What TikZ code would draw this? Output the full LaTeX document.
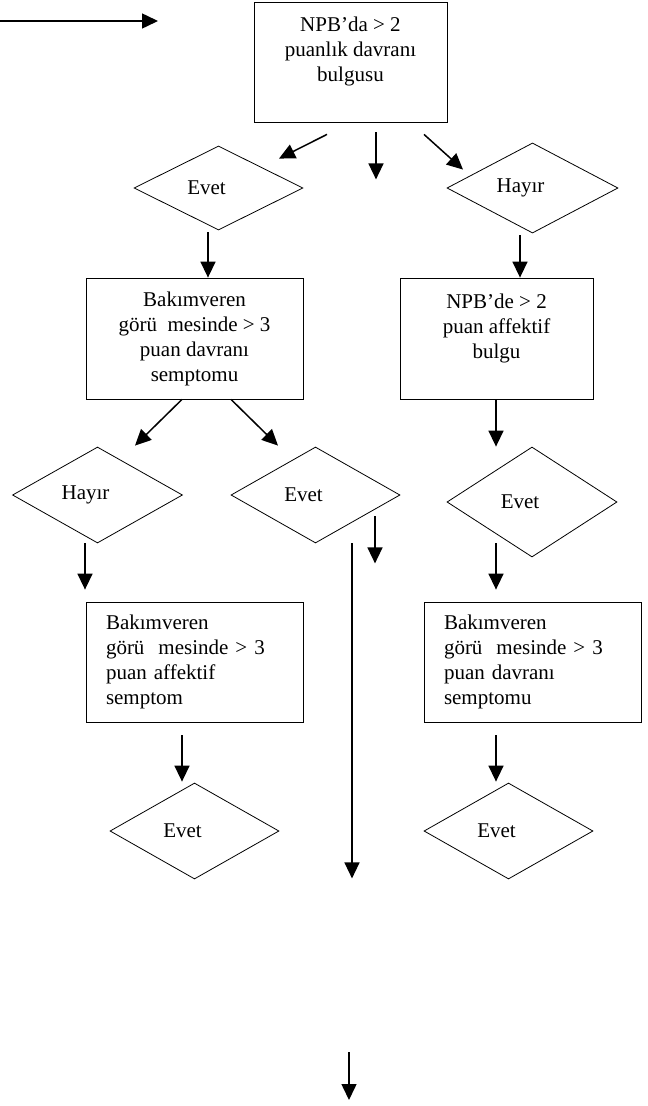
\documentclass[tikz,border=0pt]{standalone}
\usepackage{fontspec}
\setmainfont{Liberation Serif}
\usetikzlibrary{arrows.meta, shapes.geometric, calc}

\begin{document}
\begin{tikzpicture}[x=1pt, y=-1pt,
    stage/.style={draw, line width=0.8pt, minimum width=217pt, minimum height=121pt,
                  align=center, inner sep=0pt},
    note/.style={stage, align=left, text width=177pt, inner xsep=20pt},
    choice/.style={draw, diamond, line width=0.8pt, minimum width=170pt,
                   minimum height=96pt, inner sep=0pt,
                   execute at end node={\hspace{24pt}}},
    arrow/.style={-{Triangle[length=16pt, width=15pt]}, line width=1.5pt},
    font=\fontsize{21}{25}\selectfont
  ]
    \useasboundingbox (0,0) rectangle (648,1106);

    \coordinate (in0) at (0,21);
    \coordinate (in0tip) at (158,21);
    \coordinate (out0) at (349,1052);

    \node[stage, minimum width=193pt, minimum height=120pt] (box1) at (350.5,62)
      {NPB’da > 2\\puanlık davranı\\bulgusu\\\mbox{}};

    \node[choice, minimum width=169pt, minimum height=84pt] (e1) at (218.5,188) {Evet};
    \node[choice, minimum width=171pt, minimum height=84pt] (h1) at (532.5,188) {Hayır};

    \node[stage] (box2) at (194.5,338.5)
      {Bakımveren\\görü~~mesinde > 3\\puan davranı\\semptomu};
    \node[stage, minimum width=193pt] (box3) at (496.5,338.5)
      {NPB’de > 2\\puan affektif\\bulgu\\\mbox{}};

    \node[choice] (h2) at (97.5,495) {Hayır};
    \node[choice, minimum width=169pt] (e2) at (315.5,495) {Evet};
    \node[choice, minimum height=110pt] (e3) at (532,502) {Evet};

    \node[note, minimum height=120pt] (box4) at (194.5,662)
      {Bakımveren\\görü~~mesinde > 3\\puan affektif\\semptom};
    \node[note, minimum height=120pt] (box5) at (532.5,662)
      {Bakımveren\\görü~~mesinde > 3\\puan davranı\\semptomu};

    \node[choice, minimum width=169pt] (e4) at (194.5,831) {Evet};
    \node[choice, minimum width=169pt] (e5) at (508.5,831) {Evet};

    % arrows
    \draw[arrow] (in0) -- (in0tip);
    \draw[arrow] ($(box1.south)+(-23.5,12)$) -- ($(e1.north)+(60.5,13)$);
    \draw[arrow] ($(box1.south)+(25.5,10)$) -- ++(0,47);
    \draw[arrow] ($(box1.south)+(73.5,12)$) -- ($(h1.north)+(-69.5,27)$);
    \draw[arrow] ($(e1.south)+(-10.5,2)$) -- ($(box2.north)+(13.5,0)$);
    \draw[arrow] ($(h1.south)+(-12.5,2)$) -- ($(box3.north)+(23.5,0)$);
    \draw[arrow] ($(box2.south)+(-12.5,0)$) -- ($(h2.north)+(37.5,-1)$);
    \draw[arrow] ($(box2.south)+(36.5,0)$) -- ($(e2.north)+(-37.5,-1)$);
    \draw[arrow] ($(box3.south)+(-0.5,0)$) -- ($(e3.north)+(-36,0)$);
    \draw[arrow] ($(h2.south)+(-12.5,0)$) -- ($(box4.north)+(-109.5,-12)$);
    \draw[arrow] ($(e2.south)+(59.5,-27)$) -- ++(0,47);
    \draw[arrow] ($(e2.south)+(36.5,0)$) -- ++(0,335);
    \draw[arrow] ($(e3.south)+(-36,-14)$) -- ($(box5.north)+(-36.5,-12)$);
    \draw[arrow] ($(box4.south)+(-12.5,13)$) -- ($(e4.north)+(-12.5,-1)$);
    \draw[arrow] ($(box5.south)+(-36.5,13)$) -- ($(e5.north)+(-12.5,-1)$);
    \draw[arrow] (out0) -- ++(0,48);
\end{tikzpicture}
\end{document}
